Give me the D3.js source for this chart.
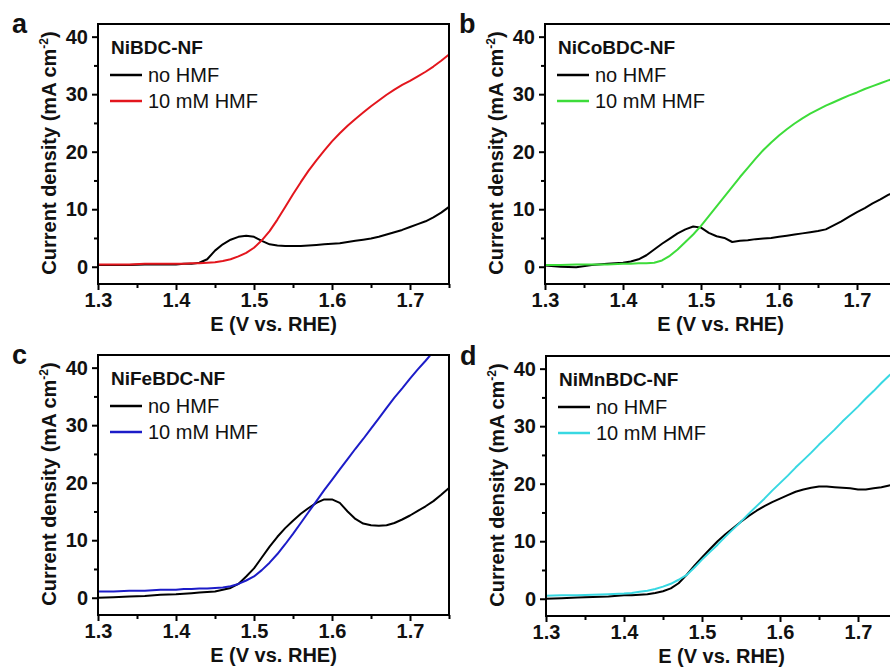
<!DOCTYPE html>
<head>
  <meta charset="utf-8">
  <script src="https://d3js.org/d3.v7.min.js"></script>
  <style>
  body { margin: 0; background: #fff; }
  svg { font-family: Arial, "Liberation Sans", sans-serif; }
  .frame { fill: none; stroke: #000; stroke-width: 2px; }
  .axis path { display: none; }
  .axis line { stroke: #000; stroke-width: 2px; }
  .axis text { font-size: 20px; font-weight: bold; fill: #111; }
  .curve { fill: none; stroke-width: 2px; stroke-linejoin: round; }
</style>
</head>
<body>
<svg width="890" height="671"></svg>

<script type="text/javascript">
// Potential grid (V vs. RHE) shared by every curve
var potential = [1.30, 1.32, 1.34, 1.36, 1.38,
  1.40, 1.41, 1.42, 1.43, 1.44, 1.45, 1.46, 1.47, 1.48, 1.49,
  1.50, 1.51, 1.52, 1.53, 1.54, 1.55, 1.56, 1.57, 1.58, 1.59,
  1.60, 1.61, 1.62, 1.63, 1.64, 1.65, 1.66, 1.67, 1.68, 1.69,
  1.70, 1.71, 1.72, 1.73, 1.74, 1.75];

// current density, mA cm-2
var niNoHmf = [0.3, 0.3, 0.3, 0.4, 0.4,
  0.4, 0.5, 0.5, 0.7, 1.3, 2.8, 3.9, 4.7, 5.2, 5.4,
  5.2, 4.5, 3.9, 3.7, 3.6, 3.6, 3.6, 3.7, 3.8, 3.9,
  4.0, 4.1, 4.3, 4.5, 4.7, 4.9, 5.2, 5.6, 6.0, 6.4,
  6.9, 7.4, 7.9, 8.6, 9.4, 10.4];
var niHmf = [0.4, 0.4, 0.4, 0.5, 0.5,
  0.5, 0.5, 0.6, 0.6, 0.7, 0.8, 1.0, 1.3, 1.8, 2.4,
  3.3, 4.6, 6.2, 8.2, 10.4, 12.6, 14.7, 16.7, 18.5, 20.2,
  21.8, 23.2, 24.5, 25.7, 26.8, 27.9, 28.9, 29.9, 30.8, 31.6,
  32.3, 33.1, 33.9, 34.8, 35.8, 36.9];

var nicoNoHmf = [0.2, 0.0, -0.1, 0.3, 0.5,
  0.7, 0.9, 1.3, 2.0, 3.0, 4.0, 4.9, 5.8, 6.5, 7.0,
  6.8, 5.9, 5.3, 5.0, 4.3, 4.5, 4.6, 4.8, 4.9, 5.0,
  5.2, 5.4, 5.6, 5.8, 6.0, 6.2, 6.5, 7.2, 7.9, 8.7,
  9.5, 10.2, 11.0, 11.7, 12.5, 13.1];
var nicoHmf = [0.3, 0.3, 0.4, 0.4, 0.4,
  0.5, 0.5, 0.6, 0.6, 0.7, 1.1, 1.9, 3.0, 4.3, 5.6,
  7.1, 8.8, 10.5, 12.2, 13.9, 15.6, 17.2, 18.8, 20.3, 21.6,
  22.8, 23.9, 24.9, 25.8, 26.6, 27.3, 28.0, 28.6, 29.2, 29.8,
  30.3, 30.9, 31.4, 31.9, 32.4, 32.8];

var nifeNoHmf = [0.0, 0.1, 0.2, 0.3, 0.5,
  0.6, 0.7, 0.8, 0.9, 1.0, 1.1, 1.4, 1.7, 2.4, 3.7,
  5.1, 7.0, 8.9, 10.6, 12.1, 13.4, 14.6, 15.6, 16.5, 17.1,
  17.1, 16.5, 15.0, 13.7, 12.9, 12.6, 12.5, 12.6, 13.0, 13.6,
  14.3, 15.1, 15.9, 16.8, 17.9, 19.1];
var nifeHmf = [1.1, 1.1, 1.2, 1.2, 1.4,
  1.4, 1.5, 1.5, 1.6, 1.6, 1.7, 1.8, 2.0, 2.4, 3.0,
  3.7, 4.8, 6.1, 7.6, 9.3, 11.1, 13.0, 14.9, 16.8, 18.7,
  20.5, 22.3, 24.1, 25.9, 27.6, 29.4, 31.2, 33.0, 34.8, 36.4,
  38.1, 39.7, 41.2, 42.8, 44.4, 46.0];

var nimnNoHmf = [0.0, 0.1, 0.2, 0.3, 0.4,
  0.6, 0.6, 0.7, 0.8, 1.0, 1.3, 1.8, 2.7, 4.1, 5.7,
  7.2, 8.6, 10.0, 11.2, 12.3, 13.4, 14.4, 15.3, 16.1, 16.8,
  17.4, 18.0, 18.6, 19.0, 19.3, 19.5, 19.5, 19.4, 19.3, 19.2,
  19.0, 19.0, 19.2, 19.4, 19.7, 19.8];
var nimnHmf = [0.5, 0.6, 0.6, 0.7, 0.8,
  0.9, 1.0, 1.2, 1.4, 1.7, 2.1, 2.6, 3.3, 4.1, 5.4,
  6.8, 8.1, 9.4, 10.8, 12.1, 13.4, 14.8, 16.1, 17.4, 18.8,
  20.1, 21.4, 22.8, 24.1, 25.4, 26.8, 28.1, 29.4, 30.8, 32.1,
  33.4, 34.8, 36.1, 37.5, 38.8, 40.1];

var panelLetters = ["a", "b", "c", "d"];
var sampleNames = ["NiBDC-NF", "NiCoBDC-NF", "NiFeBDC-NF", "NiMnBDC-NF"];
var legendLabels = ["no HMF", "10 mM HMF"];
var hmfColors = ["#e3161d", "#3ddc3a", "#1c1cc8", "#38d8e2"];
var xTicks = [1.3, 1.4, 1.5, 1.6, 1.7];
var xMinor = [1.35, 1.45, 1.55, 1.65, 1.75];
var yTicks = [0, 10, 20, 30, 40];
var yMinor = [5, 15, 25, 35];

var panels = [
  {left: 98, top: 24, blank: niNoHmf, hmf: niHmf},
  {left: 545, top: 24, blank: nicoNoHmf, hmf: nicoHmf},
  {left: 98, top: 355, blank: nifeNoHmf, hmf: nifeHmf},
  {left: 546, top: 356, blank: nimnNoHmf, hmf: nimnHmf}
];

var W = 351, H = 260;
var svg = d3.select("svg");

var x = d3.scaleLinear().domain([1.3, 1.75]).range([0, W]);
var y = d3.scaleLinear().domain([-3, 42.2]).range([H, 0]);

var line = d3.line()
    .x(function(d) { return x(d[0]); })
    .y(function(d) { return y(d[1]); });

panels.forEach(function(p, i) {
  var g = svg.append("g").attr("transform", "translate(" + p.left + "," + p.top + ")");

  g.append("clipPath").attr("id", "clip" + i)
    .append("rect").attr("width", W).attr("height", H);

  // ticks, outward
  g.append("g").attr("class", "axis")
    .attr("transform", "translate(0," + H + ")")
    .call(d3.axisBottom(x).tickValues(xTicks).tickSize(6).tickPadding(3).tickFormat(d3.format(".1f")));
  g.append("g").attr("class", "axis")
    .attr("transform", "translate(0," + H + ")")
    .call(d3.axisBottom(x).tickValues(xMinor).tickSize(4).tickFormat(""));
  g.append("g").attr("class", "axis")
    .call(d3.axisLeft(y).tickValues(yTicks).tickSize(6).tickPadding(4));
  g.append("g").attr("class", "axis")
    .call(d3.axisLeft(y).tickValues(yMinor).tickSize(4).tickFormat(""));

  var curves = g.append("g").attr("clip-path", "url(#clip" + i + ")");
  curves.append("path").attr("class", "curve")
    .attr("stroke", "#000")
    .attr("d", line(d3.zip(potential, p.blank)));
  curves.append("path").attr("class", "curve")
    .attr("stroke", hmfColors[i])
    .attr("d", line(d3.zip(potential, p.hmf)));

  g.append("rect").attr("class", "frame").attr("width", W).attr("height", H);

  // legend
  g.append("text").attr("x", 13).attr("y", 30)
    .style("font-size", "19px").style("font-weight", "bold").attr("fill", "#111")
    .text(sampleNames[i]);
  [["#000", legendLabels[0]], [hmfColors[i], legendLabels[1]]].forEach(function(l, k) {
    var ly = 51 + k * 26;
    g.append("line").attr("x1", 12).attr("x2", 44).attr("y1", ly).attr("y2", ly)
      .attr("stroke", l[0]).attr("stroke-width", 2.5);
    g.append("text").attr("x", 50).attr("y", ly + 7)
      .style("font-size", "20px").attr("fill", "#111").text(l[1]);
  });

  // axis titles
  g.append("text").attr("x", W / 2).attr("y", H + 47)
    .attr("text-anchor", "middle")
    .style("font-size", "20px").style("font-weight", "bold").attr("fill", "#111")
    .text("E (V vs. RHE)");

  var yl = g.append("text")
    .attr("transform", "translate(-42," + (H / 2 - 1) + ") rotate(-90)")
    .attr("text-anchor", "middle")
    .style("font-size", "20px").style("font-weight", "bold").attr("fill", "#111");
  yl.append("tspan").text("Current density (mA cm");
  yl.append("tspan").attr("dy", -8).style("font-size", "12px").text("-2");
  yl.append("tspan").attr("dy", 8).text(")");

  g.append("text").attr("x", -86).attr("y", 9)
    .style("font-size", "27px").style("font-weight", "bold").attr("fill", "#111")
    .text(panelLetters[i]);
});
</script>

</body>
</html>
